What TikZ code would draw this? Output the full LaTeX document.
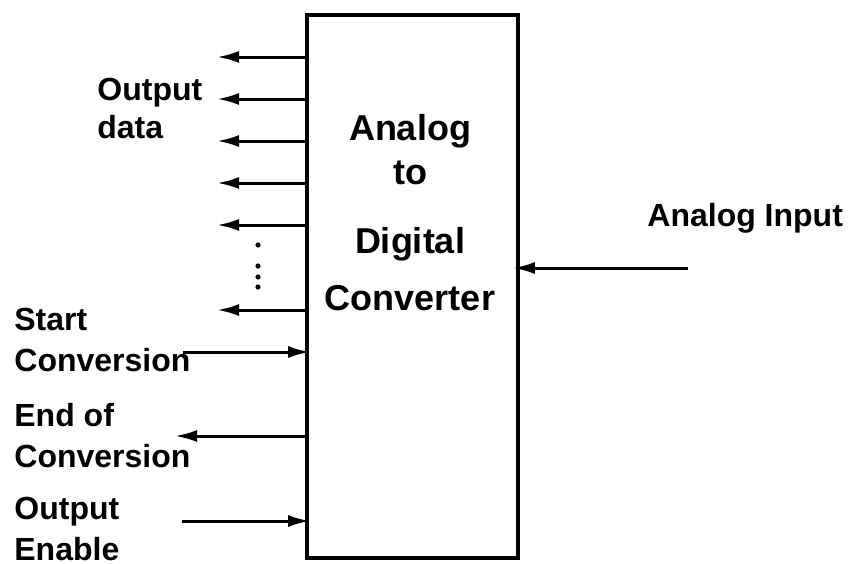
\documentclass[tikz,border=0pt]{standalone}
\usepackage{fontspec}
\setmainfont{Liberation Sans}
\usetikzlibrary{arrows.meta, positioning}

\begin{document}
\begin{tikzpicture}[
    x=0.5pt, y=-0.5pt,
    adcbox/.style={draw, line width=1.8pt, minimum width=105.5pt, minimum height=271.5pt, inner sep=0pt},
    lbl/.style={font=\fontsize{16}{20.5}\selectfont\bfseries, align=left, anchor=north west, inner sep=0pt},
    sig/.style={line width=1.5pt, -{Latex[length=11pt, width=6pt]}},
]
  \useasboundingbox (0,0) rectangle (851,563);

  \node[adcbox] (adc) at (412.5,286.5) {};
  \node[lbl, align=center, anchor=north, font=\fontsize{18}{22}\selectfont\bfseries] (title) at (410,114)
    {Analog\\to\\[12.5pt]Digital\\[6.5pt]Converter};

  % output data lines
  \foreach \y [count=\i] in {57,99,141,183,225,310} {
    \coordinate (d\i) at (217,\y);
    \draw[sig] (adc.west |- d\i) -- (d\i);
  }
  \foreach \y in {245,266,277,287}
    \fill (258,\y) circle (1.3pt);
  \node[lbl, font=\fontsize{16}{19}\selectfont\bfseries] (odlbl) at (97,78) {Output\\data};

  % control lines
  \coordinate (sc) at (183,352);
  \coordinate (ec) at (175,436);
  \coordinate (oe) at (182,521);
  \draw[sig] (sc) -- ([xshift=2.5pt]adc.west |- sc);
  \draw[sig] (adc.west |- ec) -- (ec);
  \draw[sig] (oe) -- ([xshift=2.5pt]adc.west |- oe);
  \node[lbl] (sclbl) at (14,308) {Start\\Conversion};
  \node[lbl] (eclbl) at (14,403) {End of\\Conversion};
  \node[lbl] (oelbl) at (14,497) {Output\\Enable};

  % analog input
  \coordinate (ain) at (688,268);
  \draw[sig] (ain) -- ([xshift=-3.5pt]adc.east |- ain);
  \node[lbl] (ainlbl) at (647,203) {Analog Input};
\end{tikzpicture}
\end{document}
